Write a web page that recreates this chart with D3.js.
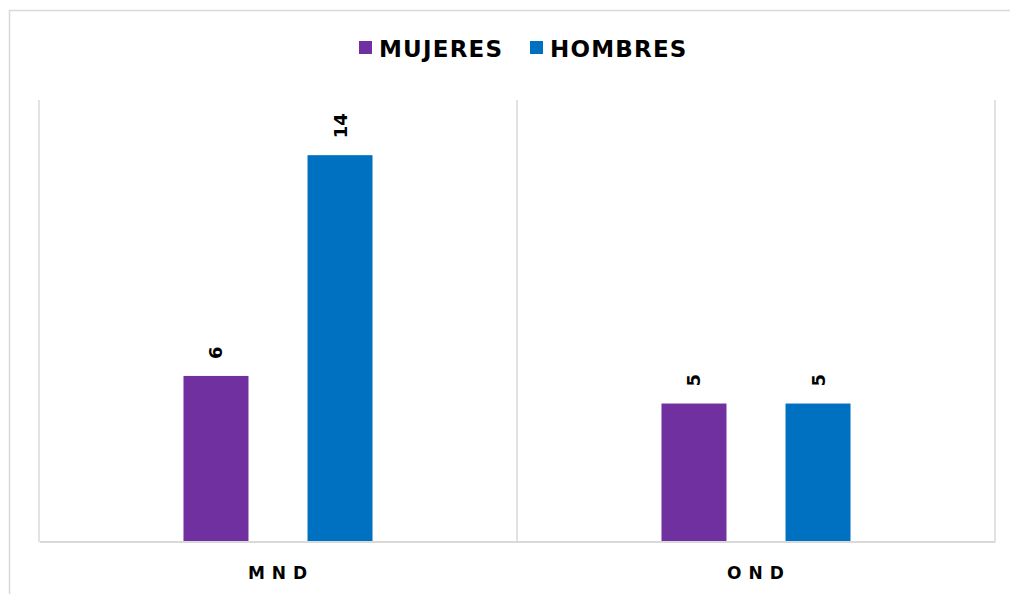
<!DOCTYPE html>
<html>
<head>
<meta charset="utf-8">
<script src="https://d3js.org/d3.v7.min.js"></script>
<style>
  body { margin: 0; background: #fff; }
  text { font-family: "DejaVu Sans", Verdana, sans-serif; font-weight: bold; fill: #000; }
</style>
</head>
<body>
<script>
  var categories = ["MND", "OND"]
  var series = ["MUJERES", "HOMBRES"]
  var mujeres = [6, 5]
  var hombres = [14, 5]
  var colors = ["#7030a0", "#0070c0"]

  var W = 1010, H = 594
  var pLeft = 39, pRight = 995, pTop = 100, pBottom = 541.5

  var svg = d3.select("body").append("svg").attr("width", W).attr("height", H)

  // outer frame
  svg.append("rect").attr("x", 9.5).attr("y", 10.5).attr("width", W).attr("height", H)
     .attr("fill", "none").attr("stroke", "#d9d9d9").attr("stroke-width", 1.5)

  var x0 = d3.scaleBand().domain(categories).range([pLeft, pRight])
  var x1 = d3.scaleBand().domain(series).range([0, x0.bandwidth()]).paddingInner(0.476).paddingOuter(1.165)
  var y = d3.scaleLinear().domain([0, 16]).range([pBottom, pTop])

  // category separators
  var seps = [pLeft].concat(categories.map(c => x0(c) + x0.bandwidth()))
  svg.selectAll("line.sep").data(seps).enter().append("line")
     .attr("x1", d => d).attr("x2", d => d).attr("y1", pTop).attr("y2", pBottom)
     .attr("stroke", "#d9d9d9").attr("stroke-width", 1.5)

  var rows = categories.map((c, i) => ({ cat: c, vals: [mujeres[i], hombres[i]] }))
  var g = svg.selectAll("g.cat").data(rows).enter().append("g")
     .attr("transform", d => `translate(${x0(d.cat)},0)`)

  g.selectAll("rect").data(d => d.vals.map((v, j) => ({ s: series[j], v, j }))).enter().append("rect")
     .attr("x", d => x1(d.s)).attr("width", x1.bandwidth())
     .attr("y", d => y(d.v)).attr("height", d => pBottom - y(d.v))
     .attr("fill", d => colors[d.j])

  g.selectAll("text.lbl").data(d => d.vals.map((v, j) => ({ s: series[j], v, j }))).enter().append("text")
     .attr("transform", d => `translate(${x1(d.s) + x1.bandwidth() / 2},${y(d.v) - 17}) rotate(-90)`)
     .attr("dominant-baseline", "central")
     .style("font-size", "18px")
     .text(d => d.v)

  // axis
  var axis = svg.append("g").attr("transform", `translate(0,${pBottom})`)
     .call(d3.axisBottom(x0).tickSize(0).tickPadding(0))
  axis.select(".domain").attr("stroke", "#d9d9d9").attr("stroke-width", 2)
  axis.selectAll("text").attr("y", 37).attr("dy", 0)
     .style("font-size", "17px").style("letter-spacing", "7px").attr("dx", 3)
     .style("font-family", "DejaVu Sans, Verdana, sans-serif").style("font-weight", "bold")

  // legend
  var legX = [359, 530]
  var leg = svg.selectAll("g.leg").data(series).enter().append("g")
     .attr("transform", (d, i) => `translate(${legX[i]},41)`)
  leg.append("rect").attr("width", 13).attr("height", 13).attr("fill", (d, i) => colors[i])
  leg.append("text").attr("x", 20).attr("y", 16).style("font-size", "23px").style("letter-spacing", "1.2px").text(d => d)
</script>
</body>
</html>
